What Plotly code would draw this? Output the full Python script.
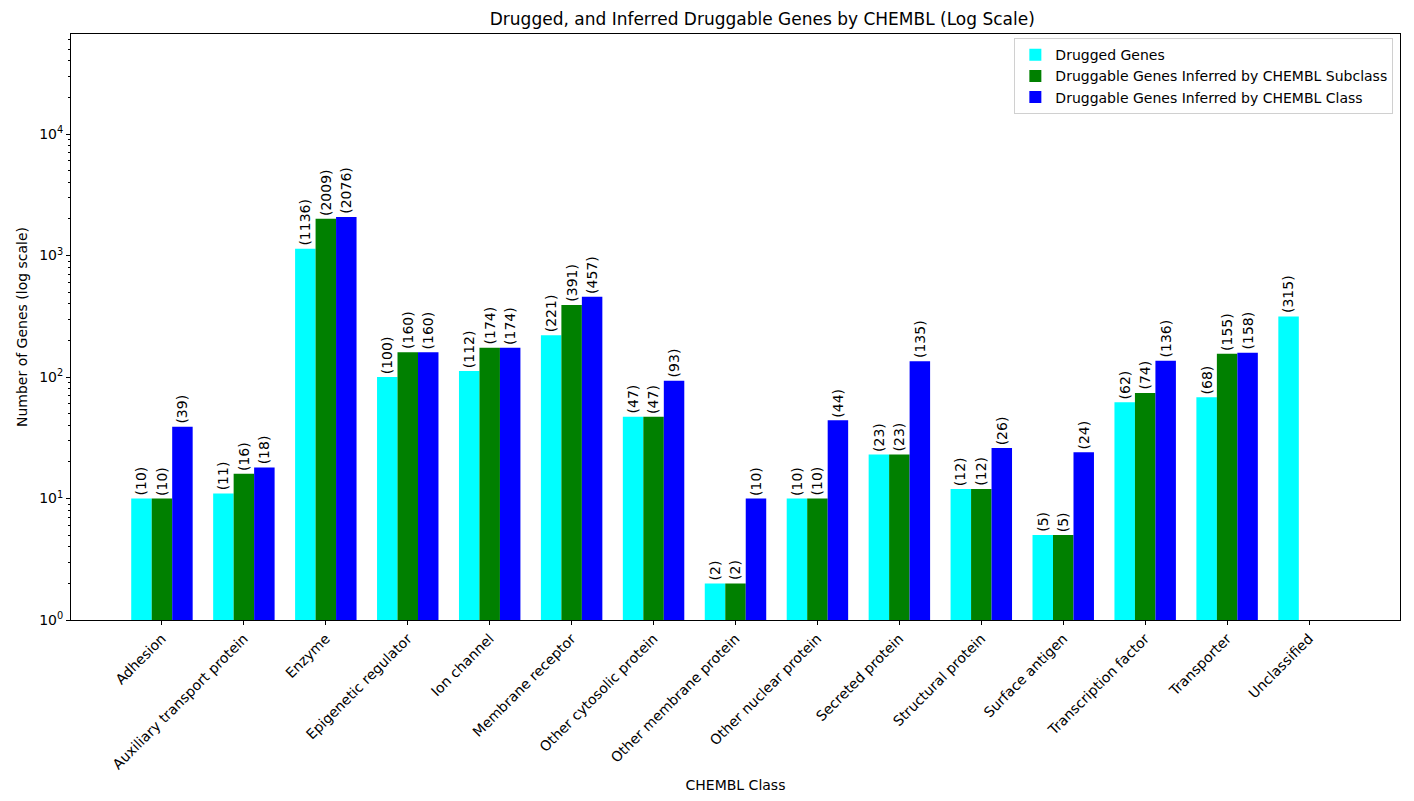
import math
import plotly.graph_objects as go

categories = ["Adhesion", "Auxiliary transport protein", "Enzyme", "Epigenetic regulator",
              "Ion channel", "Membrane receptor", "Other cytosolic protein",
              "Other membrane protein", "Other nuclear protein", "Secreted protein",
              "Structural protein", "Surface antigen", "Transcription factor",
              "Transporter", "Unclassified"]
drugged = [10, 11, 1136, 100, 112, 221, 47, 2, 10, 23, 12, 5, 62, 68, 315]
subclass = [10, 16, 2009, 160, 174, 391, 47, 2, 10, 23, 12, 5, 74, 155, None]
chembl_class = [39, 18, 2076, 160, 174, 457, 93, 10, 44, 135, 26, 24, 136, 158, None]

series = [
    ("Drugged Genes", drugged, "#00FFFF"),
    ("Druggable Genes Inferred by CHEMBL Subclass", subclass, "#008000"),
    ("Druggable Genes Inferred by CHEMBL Class", chembl_class, "#0000FF"),
]

font = "DejaVu Sans"
bar_w = 0.25
fig = go.Figure()
annotations = []
for k, (name, vals, color) in enumerate(series):
    offset = (k - 1) * bar_w
    fig.add_trace(go.Bar(
        x=list(range(len(categories))), y=vals, name=name,
        marker=dict(color=color, line=dict(width=0)),
    ))
    for i, v in enumerate(vals):
        if v is None:
            continue
        annotations.append(dict(
            x=i + offset, y=math.log10(v), xref="x", yref="y",
            text=f"({v})", showarrow=False, textangle=-90,
            xanchor="center", yanchor="bottom", yshift=1,
            font=dict(family=font, size=14, color="black"),
        ))

fig.update_layout(
    width=1414, height=801,
    barmode="group", bargap=0.25, bargroupgap=0,
    paper_bgcolor="white", plot_bgcolor="white",
    margin=dict(l=71, r=14, t=34, b=181),
    font=dict(family=font, size=14, color="black"),
    title=dict(text="Drugged, and Inferred Druggable Genes by CHEMBL (Log Scale)",
               x=(71 + 1400) / 2 / 1414, xanchor="center", xref="paper",
               y=1 - 19 / 801, yanchor="middle",
               font=dict(family=font, size=17, color="black")),
    legend=dict(x=0.995, xanchor="right", y=0.993, yanchor="top",
                bgcolor="white", bordercolor="#d0d0d0", borderwidth=1,
                font=dict(family=font, size=14, color="black"),
                tracegroupgap=2, itemwidth=30),
    showlegend=True,
    annotations=annotations,
)
fig.update_xaxes(
    range=[-1.11, 15.11], tickmode="array",
    tickvals=list(range(len(categories))), ticktext=categories,
    tickangle=-45, ticks="outside", ticklen=4, tickcolor="black",
    showline=True, linecolor="black", linewidth=1, mirror=True,
    showgrid=False, zeroline=False,
    tickfont=dict(family=font, size=14, color="black"),
    title=dict(text="CHEMBL Class", font=dict(family=font, size=14, color="black"), standoff=8),
)
fig.update_yaxes(
    type="log", range=[0, 4.823],
    tickmode="array", tickvals=[1, 10, 100, 1000, 10000],
    ticktext=["10<sup>0</sup>", "10<sup>1</sup>", "10<sup>2</sup>", "10<sup>3</sup>", "10<sup>4</sup>"],
    ticks="outside", ticklen=4, tickcolor="black",
    minor=dict(ticks="outside", ticklen=2, tickcolor="black",
               tickvals=[m * 10 ** e for e in range(0, 5) for m in range(2, 10)]),
    showline=True, linecolor="black", linewidth=1, mirror=True,
    showgrid=False, zeroline=False,
    tickfont=dict(family=font, size=14, color="black"),
    title=dict(text="Number of Genes (log scale)", font=dict(family=font, size=14, color="black"), standoff=8),
)
fig.write_html("out.html")
